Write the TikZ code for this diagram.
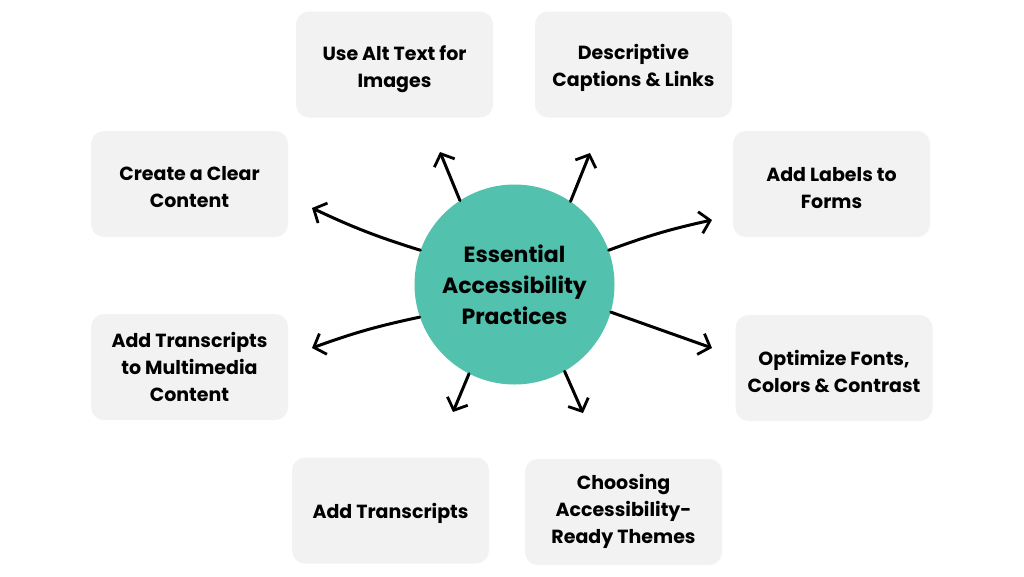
\documentclass[tikz,border=0pt]{standalone}
\usepackage{fontspec}
\setmainfont{Poppins}
\usetikzlibrary{arrows.meta}
\definecolor{teal1}{HTML}{52C1AE}
\definecolor{boxgray}{HTML}{F2F2F2}
\tikzset{
  card/.style={fill=boxgray, rounded corners=13pt, minimum width=197pt, minimum height=106pt,
    inner sep=0pt},
  cardtext/.style={align=center, inner sep=0pt, font=\fontsize{19}{27}\selectfont\bfseries},
  hub/.style={circle, fill=teal1, minimum size=200pt, inner sep=0pt, align=center,
    font=\fontsize{22}{31}\selectfont\bfseries},
  spoke/.style={line width=3pt, line cap=round, -{Straight Barb[length=10pt,width=22pt,line width=2.8pt]}}
}
\begin{document}
\begin{tikzpicture}[x=1pt,y=-1pt]
\useasboundingbox[fill=white] (0,0) rectangle (1024,576);
\node[hub] (c) at (514.5,284.5) {Essential\\Accessibility\\Practices};
\node[card] (alt) at (394.5,64.5) {};
\node[card] (cap) at (633.5,64.5) {};
\node[card] (clear) at (189.5,184) {};
\node[card] (lab) at (831.5,184) {};
\node[card] (multi) at (189.5,367) {};
\node[card] (fonts) at (834,368) {};
\node[card] (trans) at (390.5,510.5) {};
\node[card] (theme) at (623.5,512) {};
\node[cardtext] (altT) at ([yshift=-5pt]alt.center) {Use Alt Text for\\Images};
\node[cardtext] (capT) at ([yshift=-3pt]cap.center) {Descriptive\\Captions \& Links};
\node[cardtext] (clearT) at ([yshift=-3pt]clear.center) {Create a Clear\\Content};
\node[cardtext] (labT) at ([yshift=-4pt]lab.center) {Add Labels to\\Forms};
\node[cardtext] (multiT) at ([yshift=0pt]multi.center) {Add Transcripts\\to Multimedia\\Content};
\node[cardtext] (fontsT) at ([yshift=-3pt]fonts.center) {Optimize Fonts,\\Colors \& Contrast};
\node[cardtext] (transT) at ([yshift=-3pt]trans.center) {Add Transcripts};
\node[cardtext] (themeT) at ([yshift=1pt]theme.center) {Choosing\\Accessibility-\\Ready Themes};
\coordinate (t1) at (440,152);
\coordinate (t2) at (590,153);
\coordinate (t3) at (312,208);
\coordinate (t4) at (712,220);
\coordinate (t5) at (312,348);
\coordinate (t6) at (712,348);
\coordinate (t7) at (453,412);
\coordinate (t8) at (583,413);
\draw[spoke] (c.123.7) -- (t1);
\draw[spoke] (c.56.3) -- (t2);
\draw[spoke] (c.160) to[bend left=4] (t3);
\draw[spoke] (c.20.6) to[bend left=4] (t4);
\draw[spoke] (c.199) to[bend right=4] (t5);
\draw[spoke] (c.-16.5) -- (t6);
\draw[spoke] (c.-117) -- (t7);
\draw[spoke] (c.-60) -- (t8);
\end{tikzpicture}
\end{document}
